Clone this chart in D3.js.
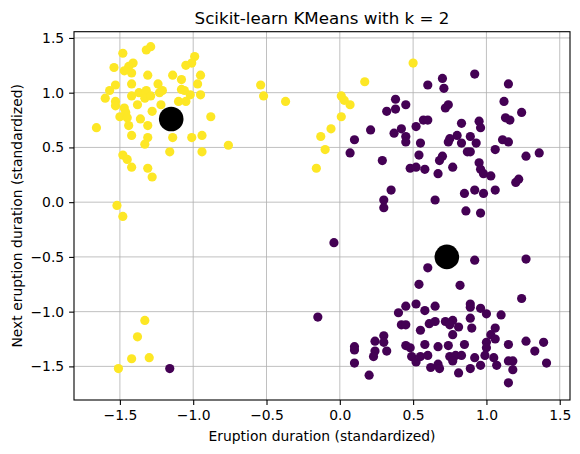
<!DOCTYPE html>
<html><head><meta charset="utf-8">
<script src="https://d3js.org/d3.v7.min.js"></script>
<style>body{margin:0;background:#fff;font-family:"DejaVu Sans",sans-serif}</style>
</head><body><svg id="c" width="580" height="454"></svg>
<script>
// cluster 0 (purple), cluster 1 (yellow)
const cluster1 = [[-1.48,1.36],[-1.32,1.39],[-1.29,1.42],[-0.99,1.33],[-1.01,1.27],[-1.05,1.25],[-1.54,1.23],[-1.41,1.27],[-1.44,1.24],[-1.47,1.20],[-1.42,1.18],[-1.31,1.16],[-1.14,1.16],[-0.95,1.16],[-1.08,1.12],[-1.53,1.07],[-1.42,1.08],[-1.24,1.08],[-0.97,1.08],[-1.57,1.02],[-1.60,0.95],[-1.53,0.92],[-1.53,0.88],[-1.42,0.97],[-1.37,1.00],[-1.32,1.02],[-1.33,0.95],[-1.38,0.89],[-1.29,0.97],[-1.23,1.00],[-1.21,1.02],[-1.22,0.89],[-1.08,1.03],[-1.06,1.02],[-1.10,0.92],[-1.05,0.92],[-1.02,0.98],[-0.95,0.98],[-1.47,0.86],[-1.46,0.82],[-1.50,0.78],[-1.45,0.77],[-1.28,0.83],[-1.36,0.76],[-1.31,0.70],[-1.44,0.70],[-1.42,0.61],[-1.31,0.59],[-1.33,0.53],[-1.14,0.59],[-1.01,0.59],[-0.94,0.61],[-0.88,0.78],[-1.66,0.68],[-1.16,0.46],[-0.94,0.46],[-0.76,0.52],[-1.48,0.43],[-1.45,0.39],[-1.42,0.32],[-1.31,0.31],[-1.28,0.23],[-1.52,-0.03],[-1.48,-0.13],[-1.33,-1.08],[-1.38,-1.23],[-1.42,-1.43],[-1.30,-1.42],[-1.51,-1.52],[-0.54,1.07],[-0.52,0.97],[-0.37,0.92],[-0.13,0.60],[-0.10,0.48],[-0.16,0.31],[0.50,1.27],[0.17,1.10],[0.03,0.93],[0.01,0.97],[0.07,0.89],[0.01,0.78],[-0.06,0.67]];
const cluster0 = [[0.92,1.17],[0.70,1.13],[0.60,1.07],[0.71,1.04],[1.15,1.08],[0.38,0.94],[0.45,0.89],[0.32,0.83],[0.38,0.85],[0.72,0.86],[0.74,0.89],[1.12,0.92],[1.24,0.82],[1.13,0.77],[1.16,0.75],[0.57,0.75],[0.60,0.75],[0.52,0.69],[0.42,0.67],[0.37,0.63],[0.45,0.60],[0.45,0.55],[0.21,0.66],[0.10,0.57],[0.83,0.72],[0.95,0.74],[0.96,0.68],[0.80,0.61],[0.75,0.58],[0.74,0.55],[0.89,0.60],[0.83,0.54],[0.93,0.54],[0.87,0.46],[0.89,0.46],[0.55,0.54],[1.11,0.57],[1.15,0.55],[1.06,0.48],[1.36,0.45],[1.27,0.42],[0.07,0.45],[0.29,0.38],[0.54,0.43],[0.70,0.42],[0.68,0.38],[0.77,0.32],[0.48,0.31],[0.52,0.32],[0.58,0.30],[0.67,0.26],[0.95,0.36],[0.96,0.30],[0.98,0.26],[1.03,0.24],[1.22,0.21],[1.20,0.18],[0.35,0.11],[0.30,0.02],[0.30,-0.05],[0.65,0.02],[0.85,0.08],[0.92,0.11],[0.98,0.08],[1.06,0.11],[0.86,-0.08],[0.96,-0.10],
[-0.04,-0.37],[-0.15,-1.05],[-1.16,-1.52],[0.92,-0.53],[1.27,-0.52],[0.60,-0.60],[0.54,-0.75],[0.82,-0.76],[1.24,-0.88],[0.45,-0.95],[0.52,-0.93],[0.65,-0.95],[0.89,-0.93],[0.89,-0.96],[0.40,-1.01],[0.58,-0.99],[0.96,-0.97],[1.00,-1.02],[1.10,-1.03],[0.42,-1.12],[0.45,-1.12],[0.55,-1.17],[0.61,-1.11],[0.65,-1.09],[0.72,-1.09],[0.77,-1.08],[0.75,-1.12],[0.81,-1.14],[0.77,-1.21],[0.89,-1.06],[0.90,-1.15],[1.06,-1.15],[1.03,-1.21],[1.06,-1.25],[0.30,-1.22],[0.30,-1.28],[0.24,-1.27],[0.32,-1.36],[0.10,-1.32],[0.10,-1.35],[0.24,-1.36],[0.23,-1.41],[0.10,-1.47],[0.20,-1.58],[0.45,-1.31],[0.48,-1.33],[0.58,-1.30],[0.67,-1.32],[0.74,-1.31],[0.85,-1.30],[1.00,-1.28],[1.00,-1.33],[1.15,-1.30],[1.27,-1.27],[1.39,-1.28],[1.33,-1.36],[0.49,-1.41],[0.52,-1.46],[0.55,-1.41],[0.60,-1.40],[0.62,-1.51],[0.67,-1.48],[0.68,-1.52],[0.75,-1.41],[0.79,-1.40],[0.83,-1.40],[0.77,-1.45],[0.81,-1.56],[0.89,-1.52],[0.92,-1.42],[0.96,-1.49],[0.99,-1.40],[1.05,-1.42],[1.07,-1.49],[1.15,-1.45],[1.18,-1.45],[1.18,-1.53],[1.15,-1.65],[1.41,-1.47]];
const centers = [[0.73,-0.50],[-1.15,0.76]];
const ticks = [-1.5,-1.0,-0.5,0.0,0.5,1.0,1.5];

const svg = d3.select("#c");
const m = {l:74, r:570, t:31.7, b:400};
const x = d3.scaleLinear().domain([-1.813,1.570]).range([m.l,m.r]);
const y = d3.scaleLinear().domain([-1.807,1.557]).range([m.b,m.t]);

// grid
svg.append("g").selectAll("line").data(ticks).join("line")
  .attr("x1",d=>x(d)).attr("x2",d=>x(d)).attr("y1",m.t).attr("y2",m.b)
  .attr("stroke","#b0b0b0").attr("stroke-width",0.8);
svg.append("g").selectAll("line").data(ticks).join("line")
  .attr("y1",d=>y(d)).attr("y2",d=>y(d)).attr("x1",m.l).attr("x2",m.r)
  .attr("stroke","#b0b0b0").attr("stroke-width",0.8);

const pts = cluster0.map(p=>({p,c:0})).concat(cluster1.map(p=>({p,c:1})));
svg.append("g").selectAll("circle").data(pts).join("circle")
  .attr("cx",d=>x(d.p[0])).attr("cy",d=>y(d.p[1])).attr("r",4.6)
  .attr("fill",d=>d.c ? "#fde725" : "#440154");
svg.append("g").selectAll("circle").data(centers).join("circle")
  .attr("cx",d=>x(d[0])).attr("cy",d=>y(d[1])).attr("r",12.3).attr("fill","#000");

const fmt = d3.format(".1f");
const fmtT = d=>fmt(d).replace("-","\u2212");
const xa = svg.append("g").attr("transform",`translate(0,${m.b})`)
  .call(d3.axisBottom(x).tickValues(ticks).tickFormat(fmtT).tickSize(4.9).tickPadding(4.9));
const ya = svg.append("g").attr("transform",`translate(${m.l},0)`)
  .call(d3.axisLeft(y).tickValues(ticks).tickFormat(fmtT).tickSize(4.9).tickPadding(4.9));
[xa,ya].forEach(a=>{a.select(".domain").remove();
  a.selectAll("text").attr("font-family","DejaVu Sans").attr("font-size",13.9).attr("fill","#000");
  a.selectAll("line").attr("stroke","#000").attr("stroke-width",1.1);});

svg.append("rect").attr("x",m.l).attr("y",m.t).attr("width",m.r-m.l).attr("height",m.b-m.t)
  .attr("fill","none").attr("stroke","#000").attr("stroke-width",1.1);

svg.append("text").attr("x",(m.l+m.r)/2).attr("y",24).attr("text-anchor","middle")
  .attr("font-size",16.7).text("Scikit-learn KMeans with k = 2");
svg.append("text").attr("x",(m.l+m.r)/2).attr("y",441).attr("text-anchor","middle")
  .attr("font-size",13.9).text("Eruption duration (standardized)");
svg.append("text").attr("transform",`translate(22,${(m.t+m.b)/2}) rotate(-90)`)
  .attr("text-anchor","middle").attr("font-size",13.9).text("Next eruption duration (standardized)");
</script></body></html>
